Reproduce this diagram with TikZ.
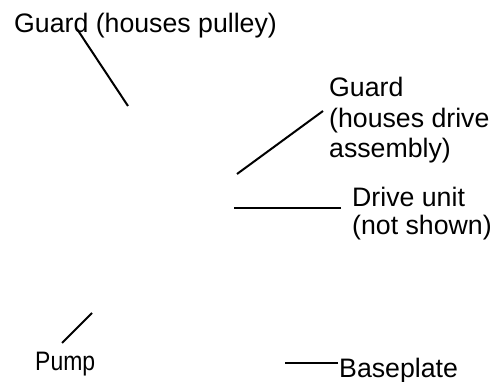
\documentclass[tikz,border=0pt]{standalone}
\usepackage{fontspec}
\setmainfont{Liberation Sans}
\tikzset{
  leader/.style={line width=2pt,color=black},
  lbl/.style={inner sep=0pt,anchor=base west,align=left,font=\fontsize{26.7}{30.5}\selectfont}
}

\begin{document}
\begin{tikzpicture}[x=1pt,y=-1pt]
\useasboundingbox (0,0) rectangle (501,382);

% labels (base = last line)
\node[lbl] (pulley) at (14,33) {Guard (houses pulley)};
\node[lbl] (guard) at (329,158) {Guard\\(houses drive\\assembly)};
\node[lbl,font=\fontsize{26.7}{28.5}\selectfont] (drive) at (352,235) {Drive unit\\(not shown)};
\node[lbl] (pump) at (35,370) {\scalebox{0.86}[1]{Pump}};
\node[lbl] (base) at (339,377) {Baseplate};

% ends of the leader lines
\coordinate (pulleyA) at (77,29);
\coordinate (pulleyB) at (128,106);
\coordinate (guardA) at (323,111);
\coordinate (guardB) at (237,174);
\coordinate (driveA) at (341,208);
\coordinate (driveB) at (234,208);
\coordinate (pumpA) at (62,343);
\coordinate (pumpB) at (92,313);
\coordinate (baseA) at (338,363);
\coordinate (baseB) at (285,363);

\draw[leader] (pulleyA) -- (pulleyB);
\draw[leader] (guardA) -- (guardB);
\draw[leader] (driveA) -- (driveB);
\draw[leader] (pumpA) -- (pumpB);
\draw[leader] (baseA) -- (baseB);

\end{tikzpicture}
\end{document}
